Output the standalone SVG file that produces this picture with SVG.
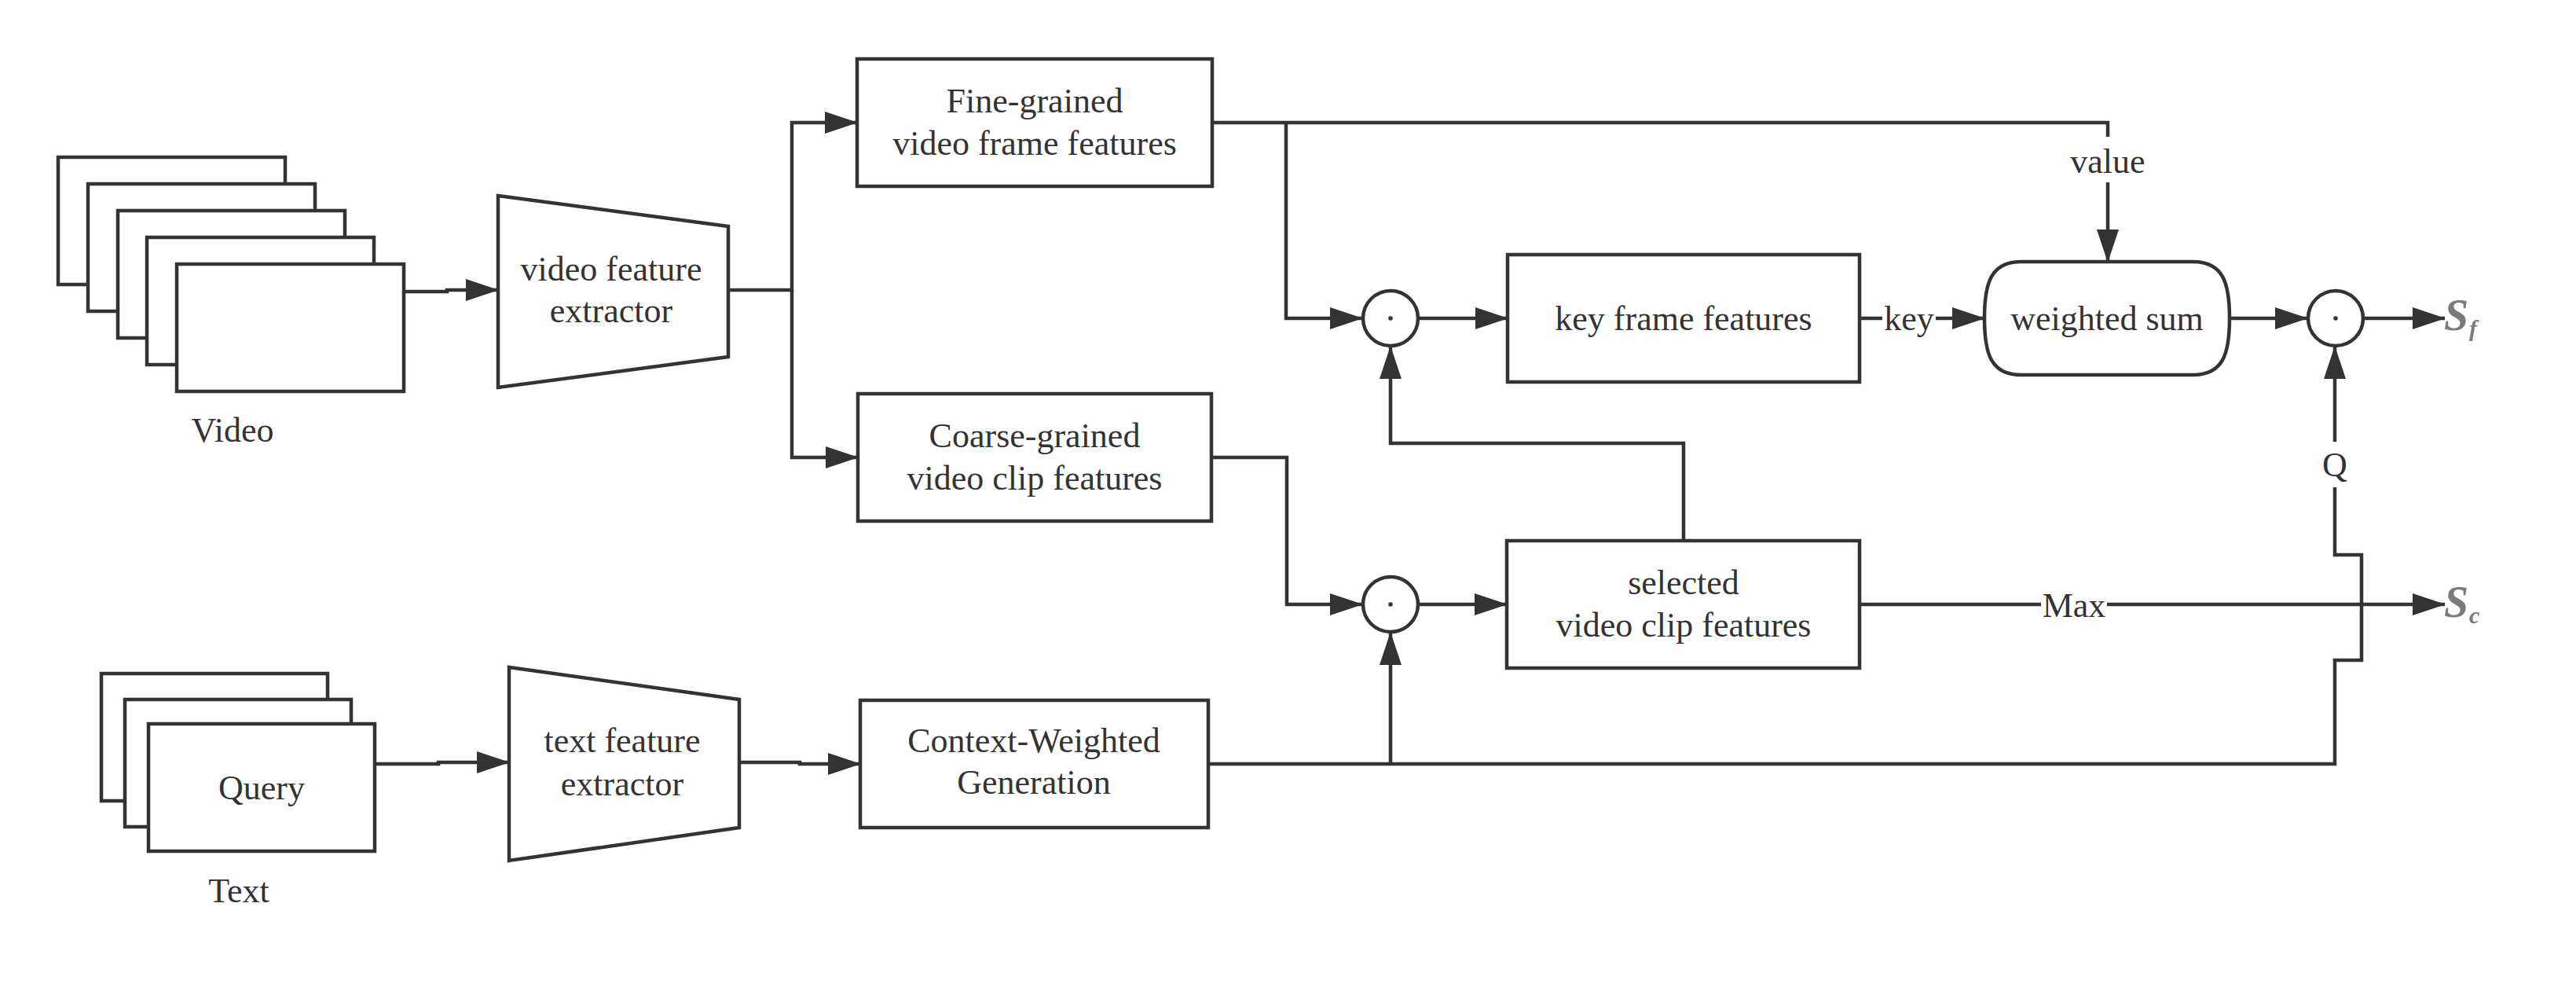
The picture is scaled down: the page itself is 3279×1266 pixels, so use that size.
<svg xmlns="http://www.w3.org/2000/svg" width="3279" height="1266" viewBox="0 0 3279 1266">
<defs>
<style>
.box{fill:#fff;stroke:#333;stroke-width:4.5}
.conn{fill:none;stroke:#333;stroke-width:4.5}
.t{font-family:"Liberation Serif","Times New Roman",serif;font-size:44px;fill:#333;text-anchor:middle}
.s{font-family:"Liberation Serif","Times New Roman",serif;font-style:italic;font-weight:bold;fill:#7a7a7a}
.lbl{fill:#fff;stroke:none}
</style>
<marker id="arr" markerUnits="userSpaceOnUse" markerWidth="42" markerHeight="28" refX="41" refY="14" orient="auto">
<path d="M0,0 L42,14 L0,28 Z" fill="#333"/>
</marker>
</defs>
<rect width="3279" height="1266" fill="#fff"/>

<g id="connectors">
<path class="conn" d="M514,371 H569 V369 H634" marker-end="url(#arr)"/>
<path class="conn" d="M927,369 H1008 V156 H1091" marker-end="url(#arr)"/>
<path class="conn" d="M1008,369 V582 H1092" marker-end="url(#arr)"/>
<path class="conn" d="M1543,156 H2683 V333" marker-end="url(#arr)"/>
<path class="conn" d="M1637,156 V405 H1734" marker-end="url(#arr)"/>
<path class="conn" d="M1806,405 H1919" marker-end="url(#arr)"/>
<path class="conn" d="M2367,405 H2526" marker-end="url(#arr)"/>
<path class="conn" d="M2838,405 H2937" marker-end="url(#arr)"/>
<path class="conn" d="M3009,405 H3112" marker-end="url(#arr)"/>
<path class="conn" d="M1542,582 H1638 V769 H1734" marker-end="url(#arr)"/>
<path class="conn" d="M1806,769 H1918" marker-end="url(#arr)"/>
<path class="conn" d="M2143,688 V564 H1770 V441" marker-end="url(#arr)"/>
<path class="conn" d="M2367,769 H3112" marker-end="url(#arr)"/>
<path class="conn" d="M478,972 H558 V970 H648" marker-end="url(#arr)"/>
<path class="conn" d="M941,970 H1018 V972 H1095" marker-end="url(#arr)"/>
<path class="conn" d="M1538,972 H2972 V840 H3006 V706 H2972 V441" marker-end="url(#arr)"/>
<path class="conn" d="M1770,972 V805" marker-end="url(#arr)"/>
<rect class="lbl" x="2633" y="174" width="100" height="58"/>
<text class="t" x="2683" y="220">value</text>
<rect class="lbl" x="2396" y="384" width="68" height="42"/>
<text class="t" x="2430" y="420">key</text>
<rect class="lbl" x="2598" y="745" width="84" height="50"/>
<text class="t" x="2640" y="785">Max</text>
<rect class="lbl" x="2952" y="562" width="40" height="58"/>
<text class="t" x="2972" y="606">Q</text>
</g>

<g id="video">
<rect class="box" x="74" y="200" width="289" height="162"/>
<rect class="box" x="112" y="234" width="289" height="162"/>
<rect class="box" x="150" y="268" width="289" height="162"/>
<rect class="box" x="187" y="302" width="289" height="162"/>
<rect class="box" x="225" y="336" width="289" height="162"/>
<text class="t" x="296" y="562">Video</text>
</g>

<g id="video-feature-extractor">
<polygon class="box" points="634,249 927,288 927,454 634,493"/>
<text class="t" x="778" y="357">video feature</text>
<text class="t" x="778" y="410">extractor</text>
</g>

<g id="fine-grained">
<rect class="box" x="1091" y="75" width="452" height="162"/>
<text class="t" x="1317" y="143">Fine-grained</text>
<text class="t" x="1317" y="197">video frame features</text>
</g>

<g id="coarse-grained">
<rect class="box" x="1092" y="501" width="450" height="162"/>
<text class="t" x="1317" y="569">Coarse-grained</text>
<text class="t" x="1317" y="623">video clip features</text>
</g>

<g id="dot1">
<circle class="box" cx="1770" cy="405" r="35"/>
<circle cx="1770" cy="405" r="2.8" fill="#333"/>
</g>

<g id="dot2">
<circle class="box" cx="1770" cy="769" r="35"/>
<circle cx="1770" cy="769" r="2.8" fill="#333"/>
</g>

<g id="key-frame-features">
<rect class="box" x="1919" y="324" width="448" height="162"/>
<text class="t" x="2143" y="420">key frame features</text>
</g>

<g id="selected-clip-features">
<rect class="box" x="1918" y="688" width="449" height="162"/>
<text class="t" x="2143" y="756">selected</text>
<text class="t" x="2143" y="810">video clip features</text>
</g>

<g id="weighted-sum">
<path class="box" d="M2573,333 H2791 C2830,333 2838,360 2838,405 C2838,450 2830,477 2791,477 H2573 C2534,477 2526,450 2526,405 C2526,360 2534,333 2573,333 Z"/>
<text class="t" x="2682" y="420">weighted sum</text>
</g>

<g id="dot3">
<circle class="box" cx="2973" cy="405" r="35"/>
<circle cx="2973" cy="405" r="2.8" fill="#333"/>
</g>

<g id="Sf">
<text class="s" x="3111" y="420" font-size="56">S</text>
<text class="s" x="3143" y="428" font-size="30">f</text>
</g>

<g id="Sc">
<text class="s" x="3111" y="785" font-size="56">S</text>
<text class="s" x="3143" y="793" font-size="30">c</text>
</g>

<g id="text">
<rect class="box" x="129" y="857" width="288" height="162"/>
<rect class="box" x="159" y="890" width="288" height="162"/>
<rect class="box" x="189" y="921" width="288" height="162"/>
<text class="t" x="333" y="1017">Query</text>
<text class="t" x="304" y="1148">Text</text>
</g>

<g id="text-feature-extractor">
<polygon class="box" points="648,849 941,890 941,1053 648,1095"/>
<text class="t" x="792" y="957">text feature</text>
<text class="t" x="792" y="1012">extractor</text>
</g>

<g id="context-weighted">
<rect class="box" x="1095" y="891" width="443" height="162"/>
<text class="t" x="1316" y="957" font-size="41">Context-Weighted</text>
<text class="t" x="1316" y="1010" font-size="41">Generation</text>
</g>
</svg>
